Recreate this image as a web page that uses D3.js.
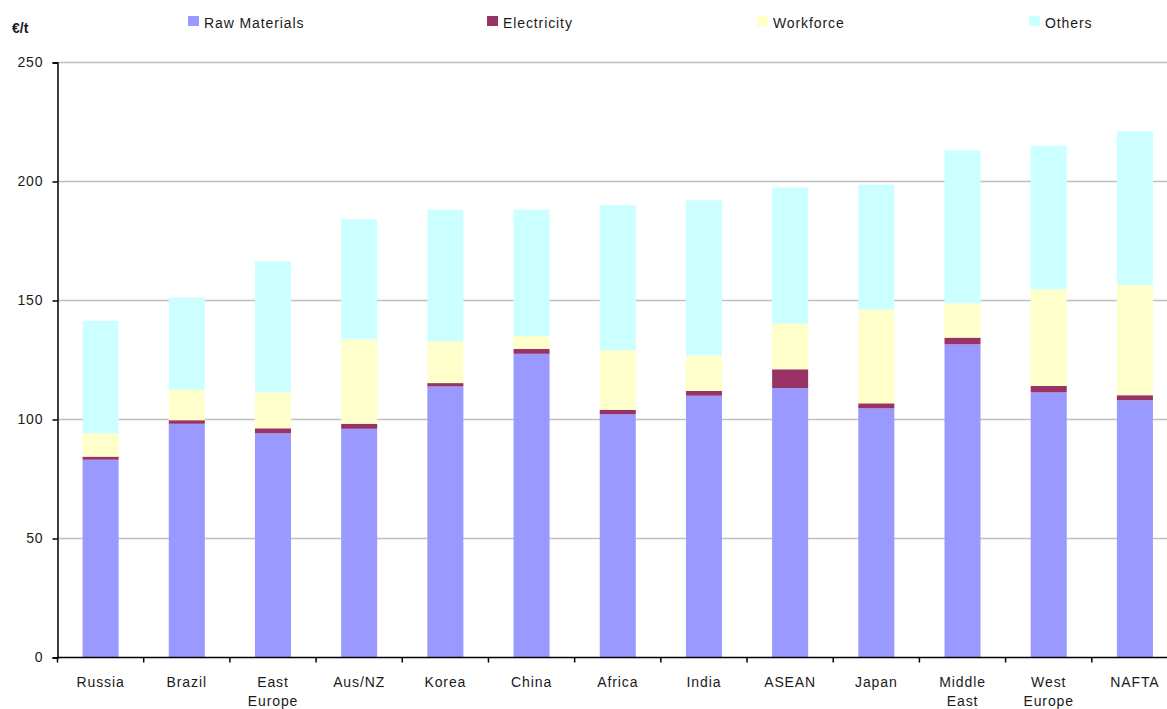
<!DOCTYPE html>
<html>
<head>
<meta charset="utf-8">
<script src="https://cdn.jsdelivr.net/npm/d3@7"></script>
<style>
  html, body { margin: 0; padding: 0; background: #fff; }
  svg { display: block; font-family: "Liberation Sans", Arial, sans-serif; }
</style>
</head>
<body>
<svg id="chart" width="1167" height="709"></svg>
<script>
// Production cost breakdown by region, €/t
const regions = ["Russia", "Brazil", "East Europe", "Aus/NZ", "Korea", "China", "Africa",
                 "India", "ASEAN", "Japan", "Middle East", "West Europe", "NAFTA"];
const seriesNames = ["Raw Materials", "Electricity", "Workforce", "Others"];
const rawMaterials = [83.1, 98.2, 94.2, 96.1, 113.9, 127.6, 102.2, 110.0, 113.2, 104.7, 131.6, 111.4, 108.1];
const electricity  = [1.3, 1.5, 2.1, 2.1, 1.4, 2.1, 1.9, 2.0, 7.9, 2.1, 2.8, 2.7, 2.1];
const workforce    = [9.8, 12.8, 15.1, 35.5, 17.6, 5.4, 25.0, 15.0, 19.2, 39.3, 14.4, 40.6, 46.3];
const others       = [47.3, 38.8, 55.1, 50.5, 55.3, 53.1, 61.0, 65.1, 57.1, 52.6, 64.3, 60.3, 64.6];
const yTicks = [0, 50, 100, 150, 200, 250];
const unitLabel = "€/t";

const colors = ["#9999ff", "#993366", "#ffffcc", "#ccffff"];
const textColor = "#1a1a1a";
const fontSize = 14;
const spacing = "0.9px";

const svg = d3.select("#chart");
const plotLeft = 57.5, plotBottom = 657.5, plotTop = 62.5, plotRight = 1178;

const rows = regions.map((r, i) => ({
  region: r,
  "Raw Materials": rawMaterials[i],
  "Electricity": electricity[i],
  "Workforce": workforce[i],
  "Others": others[i]
}));
const stacked = d3.stack().keys(seriesNames)(rows);

const x = d3.scaleBand().domain(regions).range([plotLeft, plotRight]).paddingInner(0.582).paddingOuter(0.291);
const y = d3.scaleLinear().domain([0, 250]).range([plotBottom, plotTop]);

// horizontal gridlines
svg.append("g")
  .selectAll("line")
  .data(yTicks.filter(t => t > 0))
  .join("line")
  .attr("x1", plotLeft).attr("x2", 1167)
  .attr("y1", d => y(d)).attr("y2", d => y(d))
  .attr("stroke", "#c0c0c0").attr("stroke-width", 1.5);

// stacked bars
svg.append("g")
  .selectAll("g")
  .data(stacked)
  .join("g")
  .attr("fill", (d, i) => colors[i])
  .selectAll("rect")
  .data(d => d)
  .join("rect")
  .attr("x", d => x(d.data.region))
  .attr("width", x.bandwidth())
  .attr("y", d => y(d[1]))
  .attr("height", d => y(d[0]) - y(d[1]));

// y axis
const yAxis = svg.append("g")
  .attr("transform", `translate(${plotLeft},0)`)
  .call(d3.axisLeft(y).tickValues(yTicks).tickSize(5).tickPadding(9));
yAxis.select(".domain").attr("stroke", "#000").attr("stroke-width", 1.5);
yAxis.selectAll(".tick line").attr("stroke", "#000").attr("stroke-width", 1.5);
yAxis.selectAll(".tick text").attr("font-size", fontSize).attr("fill", textColor)
  .attr("letter-spacing", spacing)
  .attr("font-family", "'Liberation Sans', Arial, sans-serif");

// x axis: ticks between categories
const xAxis = svg.append("g").attr("transform", `translate(0,${plotBottom})`);
xAxis.append("line")
  .attr("x1", plotLeft).attr("x2", 1167)
  .attr("stroke", "#000").attr("stroke-width", 1.5);
const step = x.step();
xAxis.selectAll("line.sep")
  .data(regions)
  .join("line")
  .attr("class", "sep")
  .attr("x1", d => x(d) - x.paddingOuter() * step)
  .attr("x2", d => x(d) - x.paddingOuter() * step)
  .attr("y1", 0).attr("y2", 5)
  .attr("stroke", "#000").attr("stroke-width", 1.5);
xAxis.selectAll("text")
  .data(regions)
  .join("text")
  .attr("x", d => x(d) + x.bandwidth() / 2)
  .attr("y", 29)
  .attr("text-anchor", "middle")
  .attr("font-size", fontSize)
  .attr("letter-spacing", spacing)
  .attr("fill", textColor)
  .each(function(d) {
    const words = d.split(" ");
    const t = d3.select(this);
    words.forEach((w, i) => {
      t.append("tspan")
        .attr("x", x(d) + x.bandwidth() / 2)
        .attr("dy", i === 0 ? 0 : 19)
        .text(w);
    });
  });

// unit label
svg.append("text")
  .attr("x", 12).attr("y", 32.5)
  .attr("font-size", fontSize).attr("font-weight", "bold").attr("fill", textColor)
  .text(unitLabel);

// legend
const legendX = [188, 487, 757, 1029];
const legend = svg.append("g")
  .selectAll("g")
  .data(seriesNames)
  .join("g")
  .attr("transform", (d, i) => `translate(${legendX[i]},16)`);
legend.append("rect")
  .attr("width", 11).attr("height", 10)
  .attr("fill", (d, i) => colors[i]);
legend.append("text")
  .attr("x", 16).attr("y", 12)
  .attr("font-size", fontSize).attr("fill", textColor)
  .attr("letter-spacing", spacing)
  .text(d => d);
</script>
</body>
</html>
